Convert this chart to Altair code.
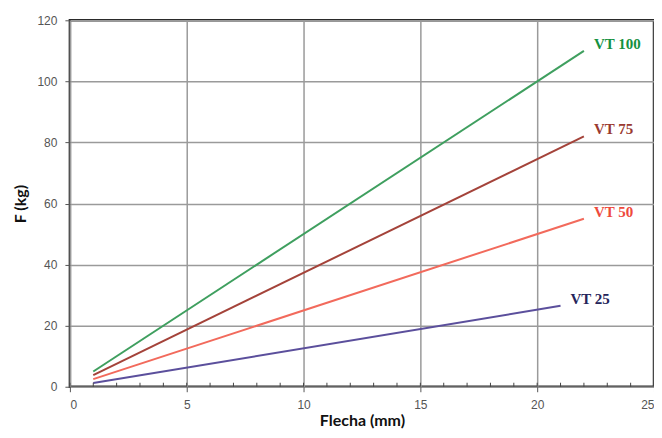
import altair as alt
import pandas as pd

series = ["VT 100", "VT 75", "VT 50", "VT 25"]
x_start = [1, 1, 1, 1]
x_end = [22, 22, 22, 21]
y_start = [5.0, 3.8, 2.5, 1.2]
y_end = [110, 82, 55, 26.5]
line_colors = ["#3f9f5f", "#a4433a", "#f26a5c", "#5b4f9c"]
label_colors = ["#16913f", "#9a3a30", "#ee4a3c", "#25245a"]
minor_ticks = list(range(0, 26))

rows = []
for s, x0, x1, y0, y1 in zip(series, x_start, x_end, y_start, y_end):
    rows.append({"serie": s, "x": x0, "y": y0})
    rows.append({"serie": s, "x": x1, "y": y1})
df = pd.DataFrame(rows)
lab = pd.DataFrame({"serie": series, "x": x_end, "y": y_end})
minor = pd.DataFrame({"m": minor_ticks})

W, H = 585, 367
xs = alt.Scale(domain=[0, 25], nice=False)
ys = alt.Scale(domain=[0, 120], nice=False)
cscale = alt.Scale(domain=series, range=line_colors)
lscale = alt.Scale(domain=series, range=label_colors)

lines = alt.Chart(df).mark_line(strokeWidth=2).encode(
    x=alt.X("x:Q", scale=xs, axis=alt.Axis(
        values=[0, 5, 10, 15, 20, 25], title="Flecha (mm)",
        labelPadding=8, titlePadding=2)),
    y=alt.Y("y:Q", scale=ys, axis=alt.Axis(
        values=[0, 20, 40, 60, 80, 100, 120], title="F (kg)",
        labelPadding=8, titlePadding=8)),
    color=alt.Color("serie:N", scale=cscale, legend=None),
    detail="serie:N",
)

labels = alt.Chart(lab).mark_text(
    align="left", dx=10, dy=-7, font="Liberation Serif", fontWeight="bold", fontSize=15
).encode(
    x=alt.X("x:Q", scale=xs),
    y=alt.Y("y:Q", scale=ys),
    text="serie:N",
    color=alt.Color("serie:N", scale=lscale, legend=None),
)

ticks = alt.Chart(minor).mark_rule(color="#444", strokeWidth=1).encode(
    x=alt.X("m:Q", scale=xs),
    y=alt.value(H),
    y2=alt.value(H - 4),
)

chart = alt.layer(lines, ticks, labels).resolve_scale(color="independent").properties(
    width=W, height=H,
    autosize=alt.AutoSizeParams(type="none"),
    padding={"left": 62, "top": 12, "right": 0, "bottom": 43},
).configure_view(
    stroke="#2a2a2a", strokeWidth=2.5
).configure_axis(
    grid=True, gridColor="#9a9a9a", gridWidth=1.5,
    domain=False, tickColor="#555", tickSize=5,
    labelFont="Liberation Sans", labelFontSize=12, labelColor="#555",
    titleFont="Lato", titleFontSize=16, titleFontWeight="bold", titleColor="#111",
)

chart.save("out.html", embed_options={"renderer": "svg", "actions": False})
